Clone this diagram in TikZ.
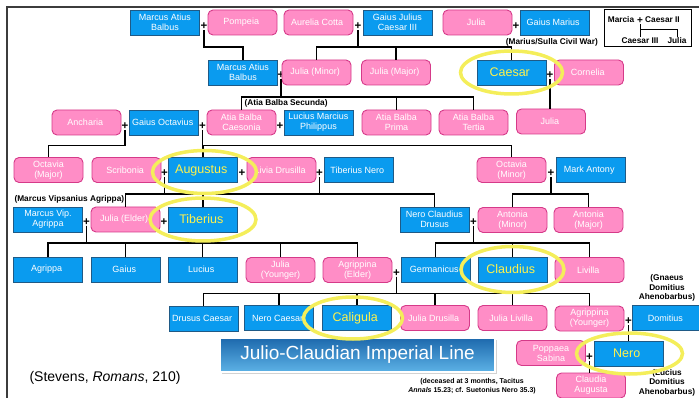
\documentclass[tikz,border=0pt]{standalone}
\usepackage{fontspec}
\setmainfont{Liberation Sans}
\usepackage{xcolor}
\usetikzlibrary{
  shadows
}
\definecolor{BoxBlue}{HTML}{0A9BEF}
\definecolor{EdgeBlue}{HTML}{1F5A86}
\definecolor{BoxPink}{HTML}{FF8DC6}
\definecolor{EdgePink}{HTML}{D53A89}
\definecolor{RingYellow}{HTML}{F4EE5A}
\definecolor{NameYellow}{HTML}{FFF24C}
\definecolor{BannerTop}{HTML}{1D69AD}
\definecolor{BannerBottom}{HTML}{5DB2E6}
\definecolor{FrameGray}{HTML}{3C3C3C}
\tikzset{
  person/.style={
    draw,
    line width=0.9pt,
    align=center,
    inner sep=1pt,
    minimum width=69pt,
    minimum height=25pt,
    text=white,
    font=\fontsize{9}{10}\selectfont
  },
  man/.style={
    person,
    fill=BoxBlue,
    draw=EdgeBlue
  },
  woman/.style={
    person,
    fill=BoxPink,
    draw=EdgePink,
    rounded corners=5pt
  },
  emperor/.style={
    man,
    text=NameYellow,
    font=\fontsize{12.5}{14}\selectfont
  },
  marriage/.style={
    inner sep=0.4pt,
    font=\bfseries\fontsize{11.5}{11.5}\selectfont
  },
  link/.style={
    line width=1.1pt
  },
  ring/.style={
    draw=RingYellow,
    line width=3.5pt
  },
  note/.style={
    align=center,
    font=\bfseries\fontsize{8.3}{9.5}\selectfont
  }
}

\begin{document}
\begin{tikzpicture}[
  x=1pt,
  y=-1pt
]

  \useasboundingbox (0,0) rectangle (699,398);

  \draw[FrameGray, line width=1.3pt] (7,398) -- (7,7) -- (699,7);

  \coordinate (barA) at (0,47);
  \coordinate (barB) at (0,97);
  \coordinate (barC) at (0,145.5);
  \coordinate (barD) at (0,194);
  \coordinate (barE) at (0,243);
  \coordinate (barF) at (0,293.5);
  \coordinate (legendBar) at (0,30);

  % first generation
  \node[man] (balbusOne) at (165,22.5) {
    Marcus Atius\\
    Balbus
  };
  \node[marriage] (p1) at (204,26) {+};
  \node[woman] (pompeia) at (242.5,22.5) {
    Pompeia
  };
  \node[woman] (aurelia) at (318.5,22.5) {
    Aurelia Cotta
  };
  \node[marriage] (p2) at (358,26) {+};
  \node[man] (caesarThree) at (397.5,22.5) {
    Gaius Julius\\
    Caesar III
  };
  \node[woman] (juliaMarius) at (477.5,22.5) {
    Julia
  };
  \node[marriage] (p3) at (516,26) {+};
  \node[man] (marius) at (554.5,22.5) {
    Gaius Marius
  };

  \node[note] (civilWar) at (553,42) {
    (Marius/Sulla Civil War)
  };

  % legend
  \node[
    draw=black,
    line width=1pt,
    minimum width=87pt,
    minimum height=37pt
  ] (legend) at (647.5,28.5) {};
  \node[note, inner sep=0.5pt] (legendMarcia) at (621,20) {Marcia};
  \node[note, inner sep=0.5pt, font=\bfseries\fontsize{10}{10}\selectfont] (legendPlus) at (640,20.5) {+};
  \node[note, inner sep=0.5pt] (legendCaesarTwo) at (662.5,20) {Caesar II};
  \node[note, inner sep=0.5pt] (legendCaesarThree) at (640,40.5) {Caesar III};
  \node[note, inner sep=0.5pt] (legendJulia) at (677,40.5) {Julia};

  \draw[line width=1pt]
  (legendPlus.south) --
  (legendCaesarThree.north);

  \draw[line width=1pt]
  (legendPlus.south |- legendBar) -|
  (legendJulia.north);

  % second generation
  \node[man] (balbusTwo) at (243,72.5) {
    Marcus Atius\\
    Balbus
  };
  \node[marriage] (p4) at (281,75) {+};
  \node[woman] (juliaMinor) at (316.5,72.5) {
    Julia (Minor)
  };
  \node[woman] (juliaMajor) at (396,72.5) {
    Julia (Major)
  };
  \node[emperor] (caesar) at (511.5,72.5) {
    Caesar
  };
  \node[marriage] (p5) at (550,75) {+};
  \node[woman] (cornelia) at (589,72.5) {
    Cornelia
  };

  % third generation
  \node[woman] (ancharia) at (86.5,122.5) {
    Ancharia
  };
  \node[marriage] (p6) at (125,126) {+};
  \node[man] (octavius) at (164,122.5) {
    Gaius Octavius
  };
  \node[marriage] (p7) at (202.5,126) {+};
  \node[woman] (atiaCaesonia) at (241.5,122.5) {
    Atia Balba\\
    Caesonia
  };
  \node[marriage] (p8) at (280,126) {+};
  \node[man] (philippus) at (318.5,122.5) {
    Lucius Marcius\\
    Philippus
  };
  \node[woman] (atiaPrima) at (396.5,122.5) {
    Atia Balba\\
    Prima
  };
  \node[woman] (atiaTertia) at (473.5,122.5) {
    Atia Balba\\
    Tertia
  };
  \node[woman] (juliaCaesaris) at (551,121.5) {
    Julia
  };

  \node[note, anchor=west] (secunda) at (241,103.5) {
    (Atia Balba Secunda)
  };

  % fourth generation
  \node[woman] (octaviaMajor) at (48.5,170) {
    Octavia\\
    (Major)
  };
  \node[woman] (scribonia) at (126.5,170) {
    Scribonia
  };
  \node[marriage] (p9) at (164.5,173) {+};
  \node[emperor] (augustus) at (203,170) {
    Augustus
  };
  \node[marriage] (p10) at (242,173) {+};
  \node[woman] (livia) at (281.5,170) {
    Livia Drusilla
  };
  \node[marriage] (p11) at (319.5,173) {+};
  \node[man] (tiberiusNero) at (358.5,170) {
    Tiberius Nero
  };
  \node[woman] (octaviaMinor) at (511.5,170) {
    Octavia\\
    (Minor)
  };
  \node[marriage] (p12) at (551,173) {+};
  \node[man] (antony) at (590.5,170) {
    Mark Antony
  };

  % fifth generation
  \node[note, anchor=west] (vipsanius) at (11,199.5) {
    (Marcus Vipsanius Agrippa)
  };
  \node[man] (agrippa) at (48,219.5) {
    Marcus Vip.\\
    Agrippa
  };
  \node[marriage] (p13) at (86.5,222) {+};
  \node[woman] (juliaElder) at (125.5,219.5) {
    Julia (Elder)
  };
  \node[marriage] (p14) at (164,222) {+};
  \node[emperor] (tiberius) at (203,219.5) {
    Tiberius
  };
  \node[man] (drusus) at (434.5,219.5) {
    Nero Claudius\\
    Drusus
  };
  \node[marriage] (p15) at (473.5,222) {+};
  \node[woman] (antoniaMinor) at (512.5,220) {
    Antonia\\
    (Minor)
  };
  \node[woman] (antoniaMajor) at (588.5,220) {
    Antonia\\
    (Major)
  };

  % sixth generation
  \node[man] (agrippaPostumus) at (48,269.5) {
    Agrippa
  };
  \node[man] (gaius) at (125.5,269.5) {
    Gaius
  };
  \node[man] (lucius) at (202.5,269.5) {
    Lucius
  };
  \node[woman] (juliaYounger) at (280.5,270) {
    Julia\\
    (Younger)
  };
  \node[woman] (agrippinaElder) at (357.5,270) {
    Agrippina\\
    (Elder)
  };
  \node[marriage] (p16) at (396.5,273) {+};
  \node[man] (germanicus) at (435.5,269.5) {
    Germanicus
  };
  \node[emperor] (claudius) at (512.5,269.5) {
    Claudius
  };
  \node[woman] (livilla) at (589.5,270) {
    Livilla
  };

  % seventh generation
  \node[man] (drususCaesar) at (203.5,318.5) {
    Drusus Caesar
  };
  \node[man] (neroCaesar) at (279,318) {
    Nero Caesar
  };
  \node[emperor] (caligula) at (357,318) {
    Caligula
  };
  \node[woman] (juliaDrusilla) at (435,318) {
    Julia Drusilla
  };
  \node[woman] (juliaLivilla) at (512.5,318) {
    Julia Livilla
  };
  \node[woman] (agrippinaYounger) at (589.5,318.5) {
    Agrippina\\
    (Younger)
  };
  \node[marriage] (p17) at (628.5,321.5) {+};
  \node[man] (domitius) at (666.5,318) {
    Domitius
  };

  \node[note] (gnaeus) at (667,288) {
    (Gnaeus\\
    Domitius\\
    Ahenobarbus)
  };

  % eighth generation
  \node[woman] (poppaea) at (551,353) {
    Poppaea\\
    Sabina
  };
  \node[marriage] (p18) at (589.5,357) {+};
  \node[emperor] (nero) at (628.5,353.5) {
    Nero
  };
  \node[woman] (claudia) at (591,385.5) {
    Claudia\\
    Augusta
  };

  \node[note] (lucius2) at (667,382.5) {
    (Lucius\\
    Domitius\\
    Ahenobarbus)
  };

  \node[
    note,
    font=\bfseries\fontsize{7}{9.5}\selectfont
  ] (deceased) at (472,386) {
    (deceased at 3 months, Tacitus\\
    \textit{Annals} 15.23; cf. Suetonius Nero 35.3)
  };

  \node[
    draw=white,
    line width=1.5pt,
    top color=BannerTop,
    bottom color=BannerBottom,
    drop shadow={shadow xshift=1.5pt, shadow yshift=-1.5pt, fill=black!35},
    minimum width=275pt,
    minimum height=34pt,
    text=white,
    font=\fontsize{19}{22}\selectfont
  ] (title) at (357.5,355) {
    Julio-Claudian Imperial Line
  };

  \node[
    font=\fontsize{14}{16}\selectfont
  ] (source) at (105,378) {
    (Stevens, \textit{Romans}, 210)
  };

  % descent
  \draw[link]
  (p1.south) --
  (p1.south |- barA) -|
  (balbusTwo.north);

  \draw[link]
  (p2.south) --
  (p2.south |- barA) -|
  (juliaMinor.north);

  \draw[link]
  (p2.south |- barA) -|
  (juliaMajor.north);

  \draw[link]
  (p2.south |- barA) -|
  (caesar.north);

  \draw[link]
  (p4.south) --
  (p4.south |- barB) -|
  (atiaCaesonia.north);

  \draw[link]
  (p4.south |- barB) -|
  (atiaPrima.north);

  \draw[link]
  (p4.south |- barB) -|
  (atiaTertia.north);

  \draw[link]
  (p5.south) --
  (p5.south |- juliaCaesaris.north);

  \draw[link]
  (p6.south) --
  (p6.south |- barC) -|
  (octaviaMajor.north);

  \draw[link]
  (p7.south) --
  (p7.south |- barC) -|
  (augustus.north);

  \draw[link]
  (p7.south |- barC) -|
  (octaviaMinor.north);

  \draw[link]
  (p9.south) --
  (p9.south |- barD) -|
  (juliaElder.north);

  \draw[link]
  (p9.south |- barD) --
  (tiberius.north |- barD);

  \draw[link]
  (p11.south) --
  (p11.south |- barD) -|
  (tiberius.north);

  \draw[link]
  (p11.south |- barD) -|
  (drusus.north);

  \draw[link]
  (p12.south) --
  (p12.south |- barD) -|
  (antoniaMinor.north);

  \draw[link]
  (p12.south |- barD) -|
  (antoniaMajor.north);

  \foreach \child in {agrippaPostumus, gaius, lucius, juliaYounger, agrippinaElder} {
    \draw[link]
    (p13.south) --
    (p13.south |- barE) -|
    (\child.north);
  }

  \foreach \child in {germanicus, claudius, livilla} {
    \draw[link]
    (p15.south) --
    (p15.south |- barE) -|
    (\child.north);
  }

  \foreach \child in {drususCaesar, neroCaesar, caligula, juliaDrusilla, juliaLivilla, agrippinaYounger} {
    \draw[link]
    (p16.south) --
    (p16.south |- barF) -|
    (\child.north);
  }

  \draw[link]
  (p17.south) --
  (p17.south |- nero.north);

  \draw[link]
  (p18.south) --
  (p18.south |- claudia.north);

  % emperors
  \draw[ring] (caesar.center) ellipse [x radius=51pt, y radius=21.5pt];
  \draw[ring] ([xshift=1.5pt, yshift=-2pt]augustus.center) ellipse [x radius=52pt, y radius=21.5pt];
  \draw[ring] (tiberius.center) ellipse [x radius=53pt, y radius=21.5pt];
  \draw[ring] (claudius.center) ellipse [x radius=51.5pt, y radius=23pt];
  \draw[ring] ([xshift=-4pt]caligula.center) ellipse [x radius=49.5pt, y radius=21pt];
  \draw[ring] ([xshift=1pt]nero.center) ellipse [x radius=53pt, y radius=20.5pt];

\end{tikzpicture}
\end{document}
